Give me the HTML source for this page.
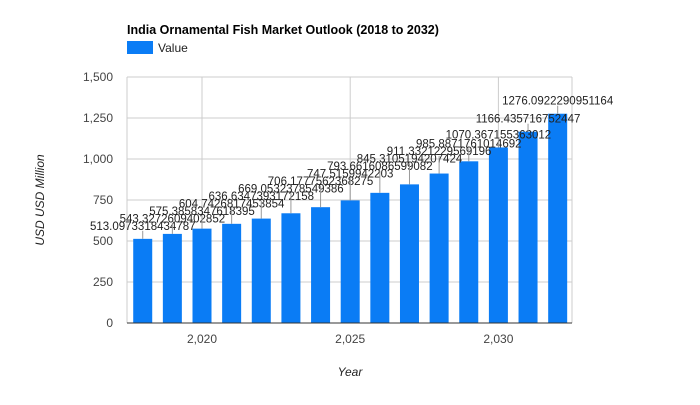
<!DOCTYPE html>
<html><head><meta charset="utf-8"><style>
body{margin:0;background:#fff;font-family:"Liberation Sans",Arial,sans-serif}
svg text{font-family:"Liberation Sans",Arial,sans-serif}
</style></head><body>
<svg width="700" height="400" xmlns="http://www.w3.org/2000/svg">
<rect width="700" height="400" fill="#fff"/>
<text x="127" y="34" font-size="12.5" font-weight="bold" fill="#000">India Ornamental Fish Market Outlook (2018 to 2032)</text>
<g>
<rect x="127" y="41" width="26" height="13" fill="#0a7cf5"/>
<text x="158" y="52" font-size="12" fill="#222">Value</text>
</g>
<g id="grid"></g>
<g id="bars"></g>
<g id="labels"></g>
<g id="axes"></g>
<text transform="translate(44,200) rotate(-90)" text-anchor="middle" font-size="12" font-style="italic" fill="#222">USD USD Million</text>
<text x="350" y="376" text-anchor="middle" font-size="12" font-style="italic" fill="#222">Year</text>
</svg>
<script>
const years=[2018,2019,2020,2021,2022,2023,2024,2025,2026,2027,2028,2029,2030,2031,2032];
const values=[513.0973318434787,543.3272609402852,575.3858347618395,604.7426817453854,636.6347393172158,669.0532378549386,706.1777562368275,747.5159942203,793.6616086599082,845.3105194207424,911.3321229569196,985.8871761014692,1070.367155363012,1166.435716752447,1276.0922290951164];
const labels=["513.0973318434787","543.3272609402852","575.3858347618395","604.7426817453854","636.6347393172158","669.0532378549386","706.1777562368275","747.5159942203","793.6616086599082","845.3105194207424","911.3321229569196","985.8871761014692","1070.367155363012","1166.435716752447","1276.0922290951164"];
const yTicks=[0,250,500,750,1000,1250,1500];
const yTickLabels=["0","250","500","750","1,000","1,250","1,500"];
const xTicks=[2020,2025,2030];
const xTickLabels=["2,020","2,025","2,030"];
const NS="http://www.w3.org/2000/svg";
const X0=127,X1=572,Y0=323,Y1=77;
const x=v=>202+(v-2020)*29.64;
const y=v=>Y0-(v/1500)*(Y0-Y1);
function mk(t,a,p){const e=document.createElementNS(NS,t);for(const k in a)e.setAttribute(k,a[k]);p.appendChild(e);return e;}
const grid=document.getElementById('grid'),bars=document.getElementById('bars'),lab=document.getElementById('labels'),axes=document.getElementById('axes');
yTicks.forEach((t,i)=>{
 const l=mk('line',{x1:X0,x2:X1,y1:y(t),y2:y(t),stroke:t===0?'#333':'#ccc','stroke-width':1},t===0?axes:grid);
 
 
 const tx=mk('text',{x:113,y:y(t)+4,'text-anchor':'end','font-size':12,fill:'#444'},axes);
 tx.textContent=yTickLabels[i];
 
 
});
[X0,X1].forEach(px=>{const l=mk('line',{x1:px,x2:px,y1:Y1,y2:Y0,stroke:'#ccc'},grid);
 
 });
xTicks.forEach((t,i)=>{
 const l=mk('line',{x1:x(t),x2:x(t),y1:Y1,y2:Y0,stroke:'#ccc'},grid);
 
 
 const tx=mk('text',{x:x(t),y:343,'text-anchor':'middle','font-size':12,fill:'#444'},axes);
 tx.textContent=xTickLabels[i];
 
 
});
let prev=1e9;
years.forEach((yr,i)=>{
 const cx=x(yr),top=y(values[i]);
 const r=mk('rect',{x:cx-9.5,y:top,width:19,height:Y0-top,fill:'#0a7cf5'},bars);
 
 
 let ly=top-13;
 if(ly>prev-7.5)ly=prev-7.5;
 prev=ly;
 const s=mk('line',{x1:cx,x2:cx,y1:ly+5,y2:top,stroke:'#999'},lab);
 
 
 const t=mk('text',{x:cx,y:ly+4,'text-anchor':'middle','font-size':11.5,fill:'#222'},lab);
 t.textContent=labels[i];
 
 
});
</script>
</body></html>
